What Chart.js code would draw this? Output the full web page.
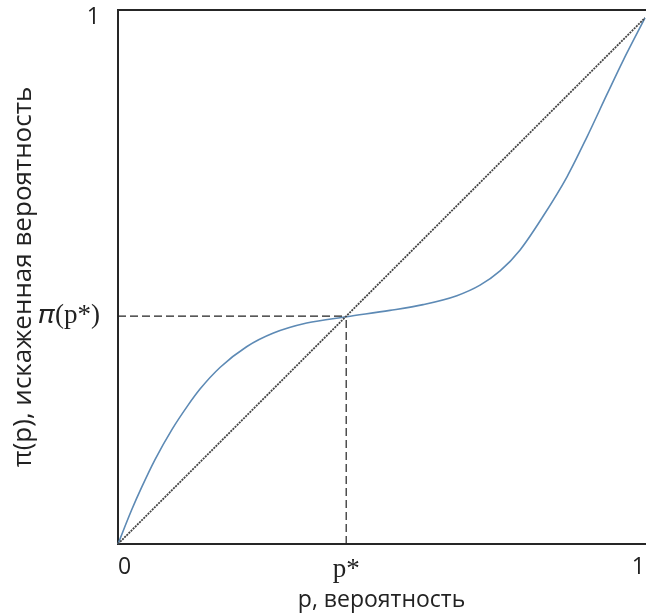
<!DOCTYPE html>
<html>
<head>
<meta charset="utf-8">
<script src="https://cdn.jsdelivr.net/npm/chart.js@4.4.1/dist/chart.umd.min.js"></script>
<style>
  html, body { margin: 0; padding: 0; background: #fff; }
  #wrap { width: 646px; height: 615px; }
</style>
</head>
<body>
<div id="wrap"><canvas id="chart" width="646" height="615"></canvas></div>
<script>
// probability weighting curve
const probX   = [0, 0.026, 0.045, 0.070, 0.102, 0.133, 0.156, 0.194, 0.244, 0.295, 0.358, 0.434, 0.516, 0.579, 0.643, 0.687, 0.725, 0.763, 0.806, 0.852, 0.890, 0.928, 0.958, 1];
const weightY = [0, 0.065, 0.108, 0.160, 0.217, 0.264, 0.295, 0.336, 0.375, 0.401, 0.420, 0.432, 0.444, 0.455, 0.472, 0.492, 0.519, 0.559, 0.622, 0.698, 0.774, 0.855, 0.918, 1];

// crossing point p* = pi(p*)
const pStar = 0.433;

const xTickValues = [0, pStar, 1];
const xTickLabels = ['0', 'p*', '1'];
const yTickValues = [pStar, 1];
const yTickLabels = ['𝜋(p*)', '1'];

const xTitle = 'p, вероятность';
const yTitle = 'π(p), искаженная вероятность';

const curve = probX.map((x, i) => ({ x: x, y: weightY[i] }));
const diagonal = [{ x: 0, y: 0 }, { x: 1, y: 1 }];
const guideH = [{ x: 0, y: pStar }, { x: pStar, y: pStar }];
const guideV = [{ x: pStar, y: 0 }, { x: pStar, y: pStar }];

const axisColor = '#262626';
const sans = "'Open Sans', 'DejaVu Sans', sans-serif";
const serif = "'Liberation Serif', 'DejaVu Serif', serif";

function tickFont(labels) {
    return (ctx) => {
        const lbl = ctx.tick ? labels[ctx.index] : '';
        if (lbl && lbl.indexOf('p') >= 0) return { family: serif, size: 27 };
        return { family: sans, size: 23 };
    };
}

// keep the plot box where the reference has it
function noPad(s) {
    s.paddingLeft = 0; s.paddingRight = 0; s.paddingTop = 0; s.paddingBottom = 0;
}

const ctx = document.getElementById('chart').getContext('2d');
new Chart(ctx, {
    type: 'scatter',
    data: {
        datasets: [
            { data: guideH, showLine: true, borderColor: '#222', borderWidth: 1.2, borderDash: [8, 4], pointRadius: 0 },
            { data: guideV, showLine: true, borderColor: '#222', borderWidth: 1.2, borderDash: [8, 4], pointRadius: 0 },
            { data: diagonal, showLine: true, borderColor: '#444', borderWidth: 1.8, borderDash: [2, 1], pointRadius: 0 },
            { data: curve, showLine: true, borderColor: '#5d8ab5', borderWidth: 1.6, pointRadius: 0,
              cubicInterpolationMode: 'monotone', clip: false }
        ]
    },
    options: {
        responsive: false,
        animation: false,
        events: [],
        layout: { padding: { top: 10, right: 1, left: 0, bottom: 0 } },
        plugins: { legend: { display: false }, tooltip: { enabled: false } },
        scales: {
            x: {
                type: 'linear', min: 0, max: 1,
                afterBuildTicks: (s) => { s.ticks = xTickValues.map(v => ({ value: v })); },
                afterFit: (s) => { s.height = 71; noPad(s); },
                grid: { display: false },
                border: { display: true, color: axisColor, width: 2 },
                ticks: {
                    color: '#222', padding: 2, maxRotation: 0, align: 'inner',
                    font: tickFont(xTickLabels),
                    callback: (v, i) => xTickLabels[i]
                },
                title: {
                    display: true, text: xTitle, color: '#222',
                    font: { family: sans, size: 23 }, padding: { top: 0, bottom: 1 }
                }
            },
            x2: {
                type: 'linear', position: 'top', min: 0, max: 1,
                afterFit: (s) => { s.height = 0; noPad(s); },
                grid: { display: false },
                border: { display: true, color: axisColor, width: 2 },
                ticks: { display: false }
            },
            y: {
                type: 'linear', min: 0, max: 1.015,
                afterBuildTicks: (s) => { s.ticks = yTickValues.map(v => ({ value: v })); },
                afterFit: (s) => { s.width = 118; noPad(s); },
                grid: { display: false },
                border: { display: true, color: axisColor, width: 2 },
                ticks: {
                    color: '#222', padding: 10,
                    font: tickFont(yTickLabels),
                    callback: (v, i) => yTickLabels[i]
                },
                title: {
                    display: true, text: yTitle, color: '#222',
                    font: { family: sans, size: 26 }, padding: { top: 8, bottom: 0 }
                }
            }
        }
    }
});
</script>
</body>
</html>
